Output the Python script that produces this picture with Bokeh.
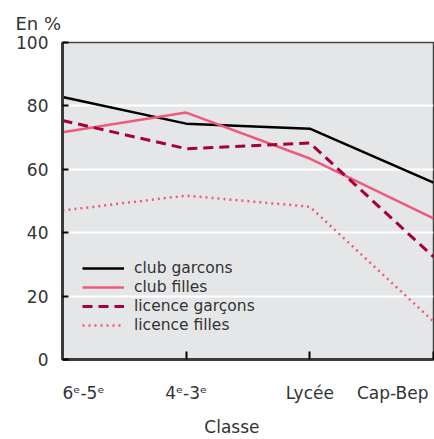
from bokeh.plotting import figure
from bokeh.models import Range1d, FixedTicker, Legend, LegendItem
from bokeh.embed import file_html
from bokeh.resources import INLINE

categories = ["6ᵉ-5ᵉ", "4ᵉ-3ᵉ", "Lycée", "Cap-Bep"]
club_garcons = [82.8, 74.4, 72.8, 55.8]
club_filles = [71.7, 77.9, 63.4, 44.5]
licence_garcons = [75.4, 66.5, 68.3, 32.4]
licence_filles = [47.0, 51.7, 48.2, 12.0]
y_ticks = [0, 20, 40, 60, 80, 100]
x_title = "Classe"
y_title = "En %"

FONT = "DejaVu Sans"
TXT = "#333333"
PINK = "#ef5a7a"
DARKRED = "#a6003a"

xs = list(range(len(categories)))
# label anchor shifts so that the end labels stay inside the frame width
label_shift = [0.17, 0.0, 0.0, -0.33]
label_pos = [x + s for x, s in zip(xs, label_shift)]
x_title_pos = 1.37

p = figure(width=434, height=439, output_backend="svg", toolbar_location=None,
           x_range=Range1d(0, 3), y_range=Range1d(0, 100),
           min_border_left=62, min_border_right=1, min_border_top=42, min_border_bottom=77)
p.border_fill_color = "white"
p.background_fill_color = "#e5e6e8"
p.outline_line_color = "#444444"
p.outline_line_width = 1.5

r1 = p.line(xs, club_garcons, line_color="black", line_width=2.5)
r2 = p.line(xs, club_filles, line_color=PINK, line_width=2.5)
r3 = p.line(xs, licence_garcons, line_color=DARKRED, line_width=3, line_dash="10 6")
r4 = p.line(xs, licence_filles, line_color=PINK, line_width=2.5, line_dash="2 4")

# x axis: labels on major ticks (no marks), category tick marks as minor ticks
overrides = {pos: c for pos, c in zip(label_pos, categories)}
overrides[x_title_pos] = "\n\n" + x_title
p.xaxis.ticker = FixedTicker(ticks=label_pos + [x_title_pos], minor_ticks=xs)
p.xaxis.major_label_overrides = overrides
p.xaxis.major_label_standoff = 23
p.xaxis.major_label_text_font = FONT
p.xaxis.major_label_text_font_size = "17px"
p.xaxis.major_label_text_color = TXT
p.xaxis.major_label_text_line_height = 0.85
p.xaxis.axis_line_width = 3
p.xaxis.axis_line_color = "#3a3a3a"
p.xaxis.major_tick_line_color = None
p.xaxis.major_tick_in = 0
p.xaxis.major_tick_out = 0
p.xaxis.minor_tick_in = 8
p.xaxis.minor_tick_out = 0
p.xaxis.minor_tick_line_width = 2
p.xaxis.minor_tick_line_color = "black"

p.yaxis.ticker = FixedTicker(ticks=y_ticks)
p.yaxis.axis_line_width = 3
p.yaxis.axis_line_color = "#3a3a3a"
p.yaxis.major_tick_in = 6
p.yaxis.major_tick_out = 0
p.yaxis.major_tick_line_width = 2
p.yaxis.major_tick_line_color = "black"
p.yaxis.minor_tick_line_color = None
p.yaxis.major_label_text_font = FONT
p.yaxis.major_label_text_font_size = "17px"
p.yaxis.major_label_text_color = TXT
p.yaxis.major_label_standoff = 14

p.title.text = y_title
p.title.align = "left"
p.title.offset = -47
p.title.text_font = FONT
p.title.text_font_size = "18px"
p.title.text_font_style = "normal"
p.title.text_color = TXT
p.title.standoff = 17

p.xgrid.grid_line_color = None
p.ygrid.ticker = FixedTicker(ticks=y_ticks)
p.ygrid.grid_line_color = "white"
p.ygrid.grid_line_width = 2

legend = Legend(items=[
    LegendItem(label="club garcons", renderers=[r1]),
    LegendItem(label="club filles", renderers=[r2]),
    LegendItem(label="licence garçons", renderers=[r3]),
    LegendItem(label="licence filles", renderers=[r4]),
], location=(20, 25))
legend.background_fill_alpha = 0
legend.border_line_color = None
legend.padding = 0
legend.margin = 0
legend.spacing = 1
legend.glyph_width = 42
legend.glyph_height = 18
legend.label_height = 18
legend.label_standoff = 10
legend.label_text_font = FONT
legend.label_text_font_size = "15.5px"
legend.label_text_color = TXT
p.add_layout(legend)

open("out.html", "w").write(file_html(p, INLINE))
